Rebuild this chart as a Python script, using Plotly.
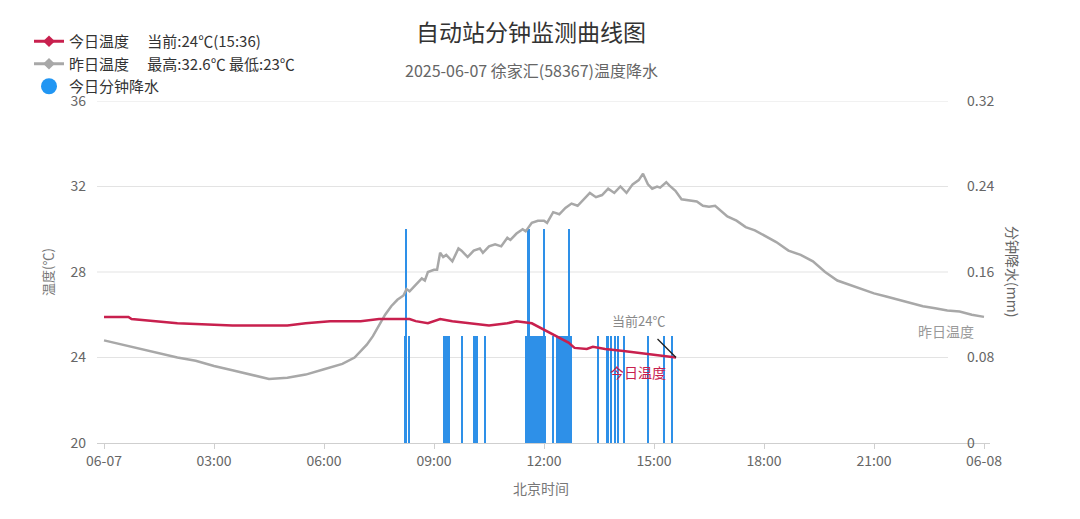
import plotly.graph_objects as go
from datetime import datetime, timedelta

# ---------------- data ----------------
today_times = ["00:00", "00:40", "00:45", "01:20", "02:00", "03:30", "05:00", "05:30",
               "06:10", "07:00", "07:30", "08:20", "08:30", "08:50", "09:10", "09:30",
               "10:00", "10:30", "11:00", "11:15", "11:40", "12:00", "12:20", "12:40",
               "12:50", "13:10", "13:20", "13:40", "14:10", "14:40", "15:05", "15:36"]
today_temp = [25.9, 25.9, 25.8, 25.7, 25.6, 25.5, 25.5, 25.6,
              25.7, 25.7, 25.8, 25.8, 25.7, 25.6, 25.8, 25.7,
              25.6, 25.5, 25.6, 25.7, 25.6, 25.3, 25.0, 24.7,
              24.45, 24.4, 24.5, 24.4, 24.3, 24.2, 24.1, 24.0]

yest_times = ["00:00", "00:30", "01:00", "01:30", "02:00", "02:30", "03:00", "03:30",
              "04:00", "04:30", "05:00", "05:30", "06:00", "06:30", "06:50", "07:00",
              "07:10", "07:20", "07:30", "07:40", "07:50", "08:00", "08:10", "08:15",
              "08:20", "08:30", "08:40", "08:45", "08:50", "09:00", "09:05", "09:10",
              "09:15", "09:20", "09:30", "09:40", "09:45", "09:55", "10:05", "10:15",
              "10:20", "10:30", "10:40", "10:50", "11:00", "11:05", "11:15", "11:25",
              "11:30", "11:40", "11:50", "12:00", "12:05", "12:15", "12:25", "12:35",
              "12:45", "12:55", "13:05", "13:15", "13:25", "13:35", "13:45", "13:55",
              "14:05", "14:15", "14:25", "14:35", "14:42", "14:50", "14:57", "15:05",
              "15:10", "15:20", "15:25", "15:35", "15:45", "16:00", "16:10", "16:20",
              "16:30", "16:40", "16:50", "17:00", "17:15", "17:30", "17:45", "18:00",
              "18:20", "18:40", "19:00", "19:20", "19:40", "20:00", "20:20", "20:40",
              "21:00", "21:20", "21:40", "22:00", "22:20", "22:40", "23:00", "23:20",
              "23:40", "24:00"]
yest_temp = [24.8, 24.6, 24.4, 24.2, 24.0, 23.85, 23.6, 23.4,
             23.2, 23.0, 23.05, 23.2, 23.45, 23.7, 24.0, 24.3,
             24.6, 25.0, 25.5, 26.0, 26.4, 26.7, 26.9, 27.2,
             27.1, 27.4, 27.7, 27.6, 28.0, 28.1, 28.1, 28.9,
             28.7, 28.8, 28.5, 29.1, 29.0, 28.7, 29.0, 29.1,
             28.9, 29.2, 29.3, 29.2, 29.6, 29.5, 29.8, 30.0,
             29.9, 30.3, 30.4, 30.4, 30.3, 30.8, 30.7, 31.0,
             31.2, 31.1, 31.4, 31.7, 31.5, 31.6, 31.9, 31.7,
             32.0, 31.7, 32.1, 32.3, 32.6, 32.1, 31.9, 32.0,
             31.95, 32.2, 32.05, 31.8, 31.4, 31.35, 31.3, 31.1,
             31.05, 31.1, 30.85, 30.6, 30.4, 30.1, 29.95, 29.7,
             29.4, 29.0, 28.8, 28.5, 28.0, 27.6, 27.4, 27.2,
             27.0, 26.85, 26.7, 26.55, 26.4, 26.3, 26.2, 26.15,
             26.0, 25.9]

rain_times = ["08:13", "08:14", "08:19",
              "09:16", "09:17", "09:18", "09:19", "09:20", "09:21", "09:22", "09:23", "09:25",
              "09:46",
              "10:06", "10:07", "10:08", "10:09", "10:10",
              "10:23",
              "11:31", "11:32", "11:33", "11:34", "11:35", "11:36", "11:37", "11:38", "11:39",
              "11:40", "11:41", "11:42", "11:43", "11:44", "11:45", "11:46", "11:47",
              "11:50", "11:51", "11:52", "11:53", "11:54", "11:55", "11:56", "11:57", "11:58",
              "11:59", "12:00", "12:01", "12:02",
              "12:14",
              "12:22", "12:23", "12:24", "12:25", "12:26", "12:27", "12:28", "12:29", "12:30",
              "12:31", "12:32", "12:33", "12:34", "12:35", "12:36", "12:37", "12:38", "12:39",
              "12:40", "12:41", "12:43", "12:44",
              "13:28", "13:43", "13:45", "13:50", "13:56", "14:01", "14:11", "14:50",
              "15:17", "15:30"]
rain_mm = [0.1, 0.2, 0.1,
           0.1, 0.1, 0.1, 0.1, 0.1, 0.1, 0.1, 0.1, 0.1,
           0.1,
           0.1, 0.1, 0.1, 0.1, 0.1,
           0.1,
           0.1, 0.1, 0.1, 0.2, 0.1, 0.2, 0.1, 0.1, 0.1,
           0.1, 0.1, 0.1, 0.1, 0.1, 0.1, 0.1, 0.1,
           0.1, 0.1, 0.1, 0.1, 0.1, 0.1, 0.1, 0.1, 0.1,
           0.1, 0.2, 0.1, 0.1,
           0.1,
           0.1, 0.1, 0.1, 0.1, 0.1, 0.1, 0.1, 0.1, 0.1,
           0.1, 0.1, 0.1, 0.1, 0.1, 0.1, 0.1, 0.1, 0.1,
           0.1, 0.2, 0.1, 0.1,
           0.1, 0.1, 0.1, 0.1, 0.1, 0.1, 0.1, 0.1,
           0.1, 0.1]

temp_ticks = [20, 24, 28, 32, 36]
rain_ticks = [0, 0.08, 0.16, 0.24, 0.32]
rain_tick_labels = ["0", "0.08", "0.16", "0.24", "0.32"]
x_tick_times = ["00:00", "03:00", "06:00", "09:00", "12:00", "15:00", "18:00", "21:00", "24:00"]
x_tick_labels = ["06-07", "03:00", "06:00", "09:00", "12:00", "15:00", "18:00", "21:00", "06-08"]

legend_today = "今日温度\u3000\u00a0当前:24℃(15:36)"
legend_yest = "昨日温度\u3000\u00a0最高:32.6℃ 最低:23℃"
legend_rain = "今日分钟降水"


def ts(hm):
    h, m = map(int, hm.split(":"))
    return datetime(2025, 6, 7) + timedelta(hours=h, minutes=m)


RED = "#C8204E"
GRAY = "#A8A8A8"
BLUE = "#2E90E8"
FONT = "Noto Sans CJK SC, Noto Sans, sans-serif"

fig = go.Figure()

fig.add_trace(go.Bar(
    x=[ts(t) for t in rain_times], y=rain_mm, width=95000,
    marker=dict(color=BLUE, line=dict(width=0)), yaxis="y", showlegend=False,
    hoverinfo="x+y"))

fig.add_trace(go.Scatter(
    x=[ts(t) for t in yest_times], y=yest_temp, mode="lines",
    line=dict(color=GRAY, width=2.5), yaxis="y2", showlegend=False))

fig.add_trace(go.Scatter(
    x=[ts(t) for t in today_times], y=today_temp, mode="lines",
    line=dict(color=RED, width=2.5), yaxis="y2", showlegend=False))

# legend entries
fig.add_trace(go.Scatter(x=[None], y=[None], mode="lines+markers", name=legend_today,
                         line=dict(color=RED, width=3),
                         marker=dict(symbol="diamond", size=9, color=RED),
                         yaxis="y2", legendgroup="a"))
fig.add_trace(go.Scatter(x=[None], y=[None], mode="lines+markers", name=legend_yest,
                         line=dict(color=GRAY, width=3),
                         marker=dict(symbol="diamond", size=9, color=GRAY),
                         yaxis="y2", legendgroup="b"))
fig.add_trace(go.Scatter(x=[None], y=[None], mode="markers", name=legend_rain,
                         marker=dict(symbol="circle", size=16, color="#2196F3"),
                         yaxis="y2", legendgroup="c"))

# page has an 8px body margin: figure is placed at (8, 8)
OFF = 8
W, H = 1080 - OFF, 519 - OFF
L = 97 - OFF
R = W - (990 - OFF)
T = 101 - OFF
B = H - (443 - OFF)
pw = W - L - R
ph = H - T - B


def px_x(p):
    return (p - OFF - L) / pw


def px_y(p):
    return (H - B - (p - OFF)) / ph


shapes = []
for v in temp_ticks[1:]:
    shapes.append(dict(type="line", xref="paper", yref="y2", x0=0.0, x1=px_x(948),
                       y0=v, y1=v, line=dict(color="#E3E3E3", width=1), layer="below"))

end_today_x = ts(today_times[-1])
end_today_y = today_temp[-1]
end_yest_x = ts(yest_times[-1])
end_yest_y = yest_temp[-1]

annotations = [
    dict(text="2025-06-07 徐家汇(58367)温度降水", xref="paper", yref="paper",
         x=px_x(531), y=px_y(70), showarrow=False, xanchor="center", yanchor="middle",
         font=dict(size=16, color="#666666")),
    dict(text="北京时间", xref="paper", yref="paper", x=px_x(541), y=px_y(488),
         showarrow=False, xanchor="center", yanchor="middle",
         font=dict(size=14, color="#777777")),
    dict(text="温度(℃)", xref="paper", yref="paper", x=px_x(47), y=px_y(272),
         showarrow=False, textangle=-90, xanchor="center", yanchor="middle",
         font=dict(size=13, color="#777777")),
    dict(text="分钟降水(mm)", xref="paper", yref="paper", x=px_x(1013), y=px_y(272),
         showarrow=False, textangle=90, xanchor="center", yanchor="middle",
         font=dict(size=14, color="#666666")),
    dict(text="", x=end_today_x, y=end_today_y, xref="x", yref="y2", showarrow=True,
         ax=-20, ay=-20, arrowhead=0, arrowwidth=1.3, arrowcolor="#222222"),
    dict(text="当前24℃", x=end_today_x, y=end_today_y, xref="x", yref="y2",
         showarrow=False, xshift=-38, yshift=37, font=dict(size=13, color="#888888")),
    dict(text="今日温度", x=end_today_x, y=end_today_y, xref="x", yref="y2",
         showarrow=False, xshift=-38, yshift=-14, font=dict(size=14, color=RED)),
    dict(text="昨日温度", x=end_yest_x, y=end_yest_y, xref="x", yref="y2",
         showarrow=False, xshift=-38, yshift=-14, font=dict(size=14, color="#999999")),
]

fig.update_layout(
    width=W, height=H,
    margin=dict(l=L, r=R, t=T, b=B, pad=0),
    paper_bgcolor="white", plot_bgcolor="white",
    font=dict(family=FONT, size=14, color="#666666"),
    title=dict(text="自动站分钟监测曲线图", xref="container", yref="container",
               x=(531 - OFF) / W, y=1 - (33 - OFF) / H, xanchor="center", yanchor="middle",
               font=dict(size=23, color="#333333", family=FONT)),
    xaxis=dict(type="date",
               range=[ts("00:00") - timedelta(minutes=11.5), ts("24:00") + timedelta(minutes=9.8)],
               tickvals=[ts(t) for t in x_tick_times], ticktext=x_tick_labels,
               showgrid=False, zeroline=False, showline=True, linecolor="#CFCFCF", linewidth=1,
               ticks="outside", ticklen=5, tickcolor="#CFCFCF",
               tickfont=dict(size=14, color="#666666")),
    yaxis=dict(range=[0, 0.32], tickvals=rain_ticks, ticktext=rain_tick_labels,
               side="right", anchor="free", position=px_x(966),
               showgrid=False, zeroline=False, showline=False, ticks="",
               tickfont=dict(size=14, color="#666666")),
    yaxis2=dict(range=[20, 36], tickvals=temp_ticks, overlaying="y", side="left",
                anchor="x", showgrid=False, zeroline=False, showline=False, ticks="",
                ticklabelstandoff=10, tickfont=dict(size=14, color="#666666")),
    legend=dict(x=px_x(29), y=px_y(25), xanchor="left", yanchor="top",
                bgcolor="rgba(0,0,0,0)", font=dict(size=15, color="#333333", family=FONT),
                traceorder="grouped", tracegroupgap=0, itemwidth=30),
    shapes=shapes,
    annotations=annotations,
    bargap=0,
)

fig.write_html("out.html")
